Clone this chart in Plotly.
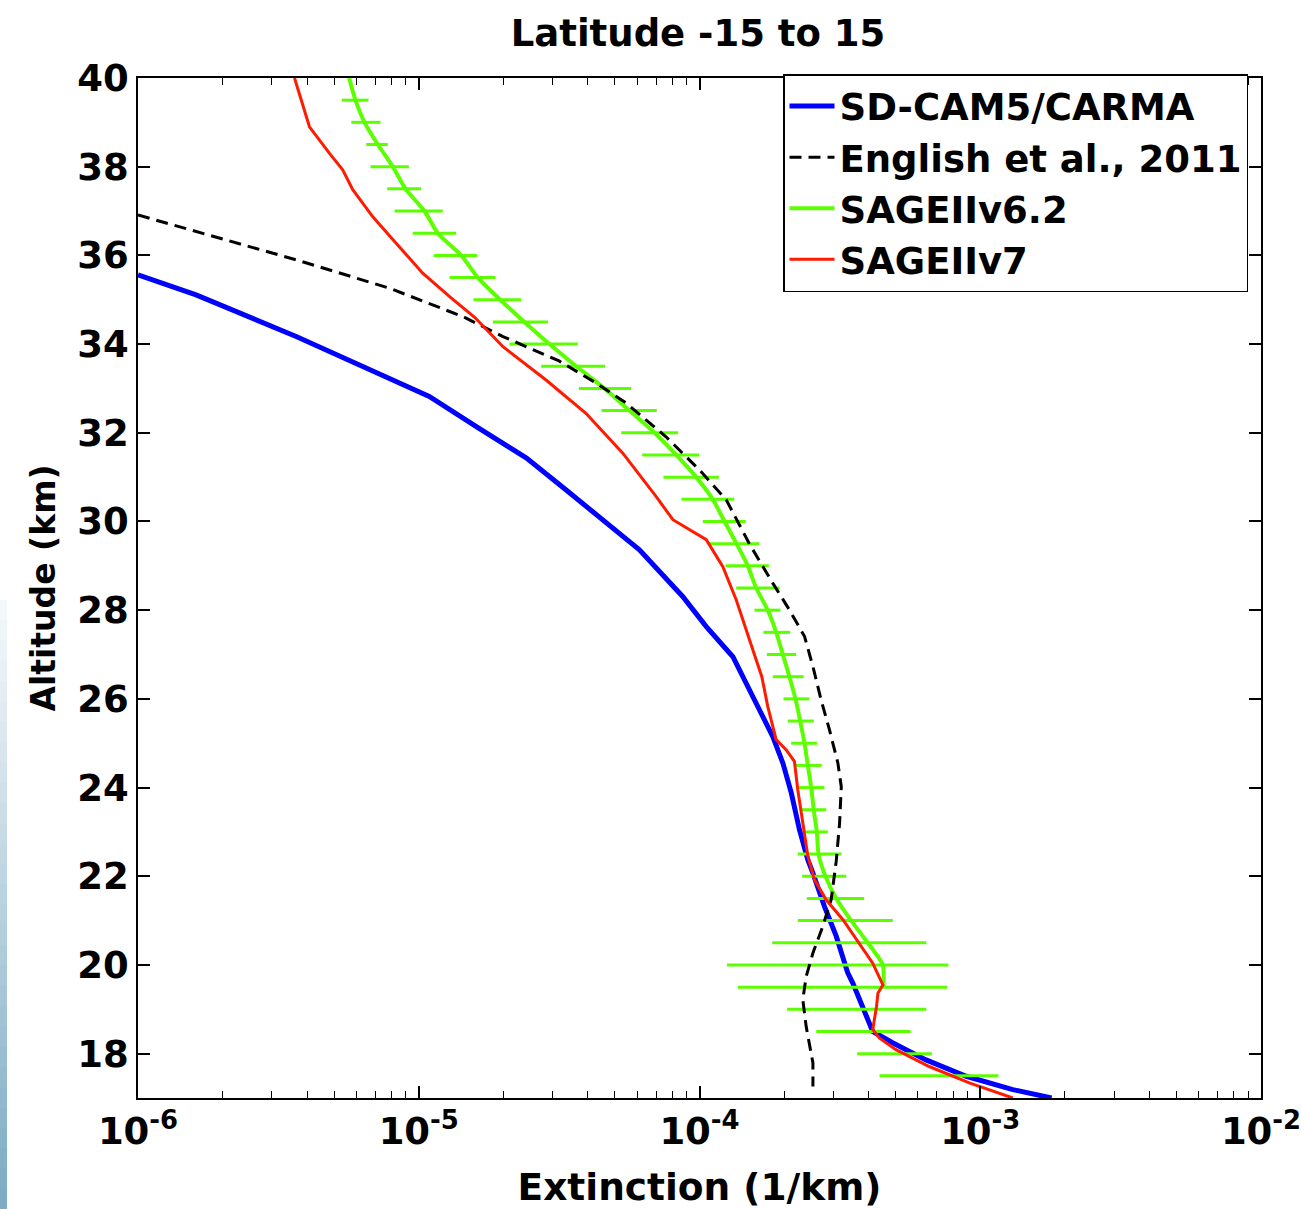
import plotly.graph_objects as go

# ---- SD-CAM5/CARMA model profile ----
cam_alt = [35.56, 35.11, 34.17, 33.38, 32.82, 32.10, 31.43, 30.71, 29.96, 29.36,
           28.31, 27.63, 26.95, 26.20, 25.68, 25.15, 24.55, 23.88, 23.05, 22.37,
           22.07, 21.32, 20.65, 19.82, 19.59, 18.84, 18.50, 18.24, 17.86, 17.49,
           17.19, 17.00]
cam_ext = [1.0e-6, 1.61e-6, 3.66e-6, 6.86e-6, 1.09e-5, 1.64e-5, 2.42e-5, 3.35e-5, 4.66e-5, 6.11e-5,
           8.71e-5, 1.057e-4, 1.315e-4, 1.507e-4, 1.667e-4, 1.824e-4, 1.982e-4, 2.123e-4, 2.270e-4, 2.432e-4,
           2.535e-4, 2.786e-4, 3.069e-4, 3.373e-4, 3.516e-4, 3.926e-4, 4.14e-4, 4.89e-4, 6.41e-4, 8.91e-4,
           1.306e-3, 1.795e-3]

# ---- English et al., 2011 ----
eng_alt = [36.91, 35.90, 35.26, 34.91, 34.62, 34.17, 33.62, 33.12, 32.67, 31.91,
           31.16, 30.49, 29.49, 28.61, 28.01, 27.41, 26.73, 25.98, 25.30, 24.55,
           24.02, 23.20, 22.34, 21.47, 20.87, 20.27, 19.74, 19.22, 18.61, 17.79,
           17.26]
eng_ext = [1.0e-6, 3.66e-6, 7.87e-6, 1.09e-5, 1.436e-5, 1.995e-5, 3.16e-5, 4.29e-5, 5.48e-5, 7.60e-5,
           1.0e-4, 1.245e-4, 1.507e-4, 1.824e-4, 2.089e-4, 2.366e-4, 2.535e-4, 2.710e-4, 2.904e-4, 3.112e-4,
           3.199e-4, 3.155e-4, 3.069e-4, 2.944e-4, 2.748e-4, 2.535e-4, 2.399e-4, 2.333e-4, 2.399e-4, 2.535e-4,
           2.535e-4]

# ---- SAGE II v6.2 profile ----
v62_alt = [40.0, 39.5, 39.0, 38.5, 38.0, 37.5, 37.0, 36.5, 36.0, 35.5,
           35.0, 34.5, 34.0, 33.5, 33.0, 32.5, 32.0, 31.5, 31.0, 30.5,
           30.0, 29.5, 29.0, 28.5, 28.0, 27.5, 27.0, 26.5, 26.0, 25.5,
           25.0, 24.5, 24.0, 23.5, 23.0, 22.5, 22.0, 21.5, 21.0, 20.5,
           20.0, 19.5]
v62_ext = [5.65e-6, 5.95e-6, 6.41e-6, 7.15e-6, 8.08e-6, 8.97e-6, 1.048e-5, 1.169e-5, 1.417e-5, 1.623e-5,
           1.951e-5, 2.379e-5, 2.922e-5, 3.638e-5, 4.589e-5, 5.632e-5, 6.916e-5, 8.26e-5, 9.73e-5, 1.115e-4,
           1.228e-4, 1.354e-4, 1.486e-4, 1.592e-4, 1.751e-4, 1.876e-4, 1.981e-4, 2.091e-4, 2.197e-4, 2.284e-4,
           2.366e-4, 2.431e-4, 2.50e-4, 2.552e-4, 2.618e-4, 2.654e-4, 2.81e-4, 3.069e-4, 3.470e-4, 3.976e-4,
           4.497e-4, 4.523e-4]

# SAGE II v6.2 uncertainty range (lower / upper bound) every 0.5 km
bar_alt = [39.5, 39.0, 38.5, 38.0, 37.5, 37.0, 36.5, 36.0, 35.5, 35.0,
           34.5, 34.0, 33.5, 33.0, 32.5, 32.0, 31.5, 31.0, 30.5, 30.0,
           29.5, 29.0, 28.5, 28.0, 27.5, 27.0, 26.5, 26.0, 25.5, 25.0,
           24.5, 24.0, 23.5, 23.0, 22.5, 22.0, 21.5, 21.0, 20.5, 20.0,
           19.5, 19.0, 18.5, 18.0, 17.5]
bar_lo = [5.32e-6, 5.75e-6, 6.50e-6, 6.73e-6, 7.72e-6, 8.20e-6, 9.52e-6, 1.131e-5, 1.287e-5, 1.567e-5,
          1.835e-5, 2.104e-5, 2.730e-5, 3.716e-5, 4.477e-5, 5.262e-5, 6.252e-5, 7.44e-5, 8.63e-5, 1.0275e-4,
          1.071e-4, 1.238e-4, 1.351e-4, 1.570e-4, 1.690e-4, 1.737e-4, 1.824e-4, 1.991e-4, 2.063e-4, 2.121e-4,
          2.197e-4, 2.210e-4, 2.302e-4, 2.366e-4, 2.239e-4, 2.322e-4, 2.411e-4, 2.239e-4, 1.816e-4, 1.253e-4,
          1.369e-4, 2.052e-4, 2.606e-4, 3.646e-4, 4.377e-4]
bar_hi = [6.62e-6, 7.31e-6, 7.76e-6, 9.22e-6, 1.020e-5, 1.218e-5, 1.359e-5, 1.615e-5, 1.876e-5, 2.317e-5,
          2.886e-5, 3.686e-5, 4.615e-5, 5.712e-5, 7.047e-5, 8.396e-5, 9.977e-5, 1.172e-4, 1.329e-4, 1.462e-4,
          1.636e-4, 1.766e-4, 1.928e-4, 1.943e-4, 2.103e-4, 2.210e-4, 2.351e-4, 2.464e-4, 2.552e-4, 2.624e-4,
          2.725e-4, 2.786e-4, 2.826e-4, 2.864e-4, 3.206e-4, 3.332e-4, 3.862e-4, 4.883e-4, 6.420e-4, 7.70e-4,
          7.625e-4, 6.42e-4, 5.645e-4, 6.723e-4, 1.161e-3]

# ---- SAGE II v7 profile ----
v7_alt = [40.0, 38.90, 38.30, 37.93, 37.48, 36.87, 36.27, 35.60, 35.07, 34.60,
          33.94, 33.19, 32.44, 31.54, 30.56, 30.04, 29.59, 29.36, 28.98, 28.23,
          27.56, 26.95, 26.50, 25.83, 25.38, 25.08, 24.85, 24.59, 23.95, 23.20,
          22.45, 21.92, 21.47, 21.02, 20.49, 20.04, 19.55, 19.36, 19.06, 18.54,
          18.35, 18.09, 17.71, 17.34, 17.00]
v7_ext = [3.61e-6, 4.08e-6, 4.81e-6, 5.36e-6, 5.82e-6, 6.86e-6, 8.32e-6, 1.033e-5, 1.288e-5, 1.585e-5,
          1.995e-5, 2.84e-5, 3.94e-5, 5.33e-5, 7.01e-5, 8.04e-5, 1.057e-4, 1.114e-4, 1.211e-4, 1.352e-4,
          1.466e-4, 1.570e-4, 1.667e-4, 1.750e-4, 1.824e-4, 1.875e-4, 2.037e-4, 2.178e-4, 2.239e-4, 2.333e-4,
          2.432e-4, 2.570e-4, 2.825e-4, 3.243e-4, 3.715e-4, 4.14e-4, 4.50e-4, 4.32e-4, 4.27e-4, 4.14e-4,
          4.38e-4, 5.01e-4, 6.58e-4, 9.14e-4, 1.306e-3]

# axis ticks
x_tickvals = [1e-6, 1e-5, 1e-4, 1e-3, 1e-2]
x_ticktext = ["10<sup>-6</sup>", "10<sup>-5</sup>", "10<sup>-4</sup>", "10<sup>-3</sup>", "10<sup>-2</sup>"]
y_tickvals = list(range(18, 41, 2))

BLUE = "#0000ff"
RED = "#ff1a00"
GREEN = "#5cff00"
FONT = "DejaVu Sans, Liberation Sans, Arial, sans-serif"

W, H = 1301, 1209
ML, MR, MT, MB = 138, 40, 78, 111
PW, PH = W - ML - MR, H - MT - MB

# symmetric (linear) error bars about the mid point of each range
bar_ctr = [(lo + hi) / 2 for lo, hi in zip(bar_lo, bar_hi)]
bar_err = [(hi - lo) / 2 for lo, hi in zip(bar_lo, bar_hi)]

fig = go.Figure()

fig.add_trace(go.Scatter(
    x=cam_ext, y=cam_alt, mode="lines", name="SD-CAM5/CARMA",
    line=dict(color=BLUE, width=5), legendrank=1))

fig.add_trace(go.Scatter(
    x=bar_ctr, y=bar_alt, mode="markers", showlegend=False, hoverinfo="skip",
    marker=dict(size=1, color="rgba(0,0,0,0)"),
    error_x=dict(type="data", array=bar_err, symmetric=True,
                 color=GREEN, thickness=3, width=0)))

fig.add_trace(go.Scatter(
    x=v62_ext, y=v62_alt, mode="lines", name="SAGEIIv6.2",
    line=dict(color=GREEN, width=4, shape="spline", smoothing=0.6), legendrank=3))

fig.add_trace(go.Scatter(
    x=eng_ext, y=eng_alt, mode="lines", name="English et al., 2011",
    line=dict(color="black", width=3, dash="12px,7px"), legendrank=2))

fig.add_trace(go.Scatter(
    x=v7_ext, y=v7_alt, mode="lines", name="SAGEIIv7",
    line=dict(color=RED, width=3), legendrank=4))

# minor ticks of the log axis
minor_vals = [k * 10.0 ** e for e in range(-6, -2) for k in range(2, 10)]

fig.update_xaxes(
    type="log", range=[-6, -2], automargin=False, ticklabeloverflow="allow",
    tickvals=x_tickvals, ticktext=x_ticktext,
    ticks="inside", ticklen=12, tickwidth=1.5, tickcolor="black",
    showline=True, linecolor="black", linewidth=1.5, mirror="ticks",
    showgrid=False, zeroline=False,
    minor=dict(tickvals=minor_vals, ticks="inside", ticklen=7, tickwidth=1.2,
               tickcolor="black", showgrid=False),
    tickfont=dict(size=37, family=FONT, weight="bold"),
    title=dict(text="Extinction (1/km)", standoff=22,
               font=dict(size=37.5, family=FONT, weight="bold")),
)
fig.update_yaxes(
    range=[17, 40], tickvals=y_tickvals, automargin=False, ticklabeloverflow="allow",
    ticks="inside", ticklen=12, tickwidth=1.5, tickcolor="black",
    showline=True, linecolor="black", linewidth=1.5, mirror="ticks",
    showgrid=False, zeroline=False,
    tickfont=dict(size=37, family=FONT, weight="bold"),
    title=dict(text="Altitude (km)", standoff=12,
               font=dict(size=33, family=FONT, weight="bold")),
)

# slide background: thin light band along the top, fading blue band along the left
shapes = [dict(type="rect", xref="paper", yref="paper", layer="below",
               x0=-ML / PW, x1=(W - ML) / PW, y0=(H - MT - 8) / PH, y1=(H - MB + 2) / PH,
               fillcolor="#f2f5f8", line=dict(width=0))]
n_seg = 30
for i in range(n_seg):
    t = i / (n_seg - 1)
    py0 = 600 + i * (609 / n_seg)
    py1 = py0 + 609 / n_seg + 1
    r = int(245 - t * (245 - 125))
    g = int(248 - t * (248 - 172))
    b = int(250 - t * (250 - 196))
    shapes.append(dict(type="rect", xref="paper", yref="paper", layer="below",
                       x0=-ML / PW, x1=(7 - ML) / PW,
                       y0=(H - MB - py1) / PH, y1=(H - MB - py0) / PH,
                       fillcolor=f"rgb({r},{g},{b})", line=dict(width=0)))

fig.update_layout(
    width=W, height=H,
    margin=dict(l=ML, r=MR, t=MT, b=MB, autoexpand=False),
    paper_bgcolor="white", plot_bgcolor="white",
    font=dict(family=FONT, size=36, color="black", weight="bold"),
    title=dict(text="Latitude -15 to 15", x=698 / W, xanchor="center",
               y=1 - 33 / H, yanchor="middle",
               font=dict(size=37, family=FONT, weight="bold")),
    legend=dict(x=(783 - ML) / PW, y=1 + 4 / PH, xanchor="left", yanchor="top",
                bgcolor="white", bordercolor="black", borderwidth=1.5,
                font=dict(size=37, family=FONT, weight="bold"),
                tracegroupgap=0, itemwidth=45),
    shapes=shapes,
    showlegend=True,
)

fig.write_html("out.html")
